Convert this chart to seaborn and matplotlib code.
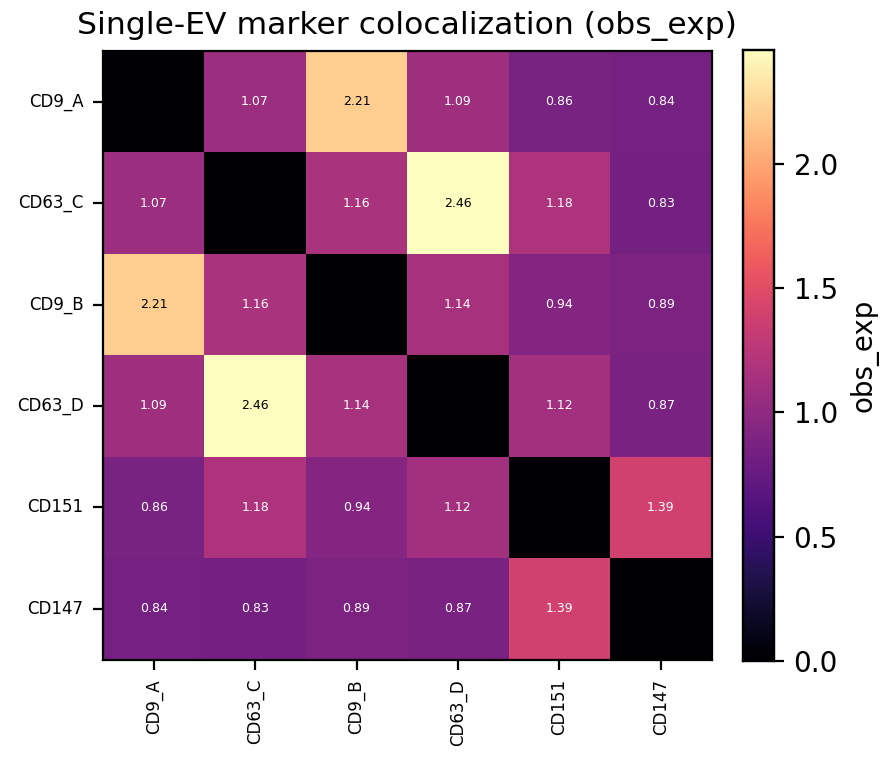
import numpy as np
import matplotlib
matplotlib.use("Agg")
import matplotlib.pyplot as plt
import seaborn as sns

markers = ["CD9_A", "CD63_C", "CD9_B", "CD63_D", "CD151", "CD147"]
row_cd9_a = [0.00, 1.07, 2.21, 1.09, 0.86, 0.84]
row_cd63_c = [1.07, 0.00, 1.16, 2.46, 1.18, 0.83]
row_cd9_b = [2.21, 1.16, 0.00, 1.14, 0.94, 0.89]
row_cd63_d = [1.09, 2.46, 1.14, 0.00, 1.12, 0.87]
row_cd151 = [0.86, 1.18, 0.94, 1.12, 0.00, 1.39]
row_cd147 = [0.84, 0.83, 0.89, 0.87, 1.39, 0.00]

vals = np.array([row_cd9_a, row_cd63_c, row_cd9_b, row_cd63_d, row_cd151, row_cd147])
labels = np.array([[("" if i == j else f"{vals[i, j]:.2f}") for j in range(6)] for i in range(6)])

fig = plt.figure(figsize=(4.475, 3.82), dpi=200)
ax = fig.add_axes([0.115, 0.135, 0.68, 0.8])
cax = fig.add_axes([0.83, 0.135, 0.035, 0.8])

sns.heatmap(vals, ax=ax, cbar_ax=cax, cmap="magma", vmin=0, vmax=vals.max(),
            annot=labels, fmt="", annot_kws={"fontsize": 4.5},
            xticklabels=markers, yticklabels=markers, square=True,
            cbar_kws={"label": "obs_exp"})
for t in ax.texts:
    if t.get_text() in ("2.21", "2.46"):
        t.set_color("black")
for s in ax.spines.values():
    s.set_visible(True)
    s.set_linewidth(0.8)
ax.set_title("Single-EV marker colocalization (obs_exp)", fontsize=11.3)
ax.tick_params(labelsize=6)
plt.setp(ax.get_xticklabels(), rotation=90)
plt.setp(ax.get_yticklabels(), rotation=0)
cax.tick_params(labelsize=10)
cax.yaxis.label.set_size(10)
for s in cax.spines.values():
    s.set_visible(True)
    s.set_linewidth(0.8)

fig.savefig("out.png", dpi=200)
